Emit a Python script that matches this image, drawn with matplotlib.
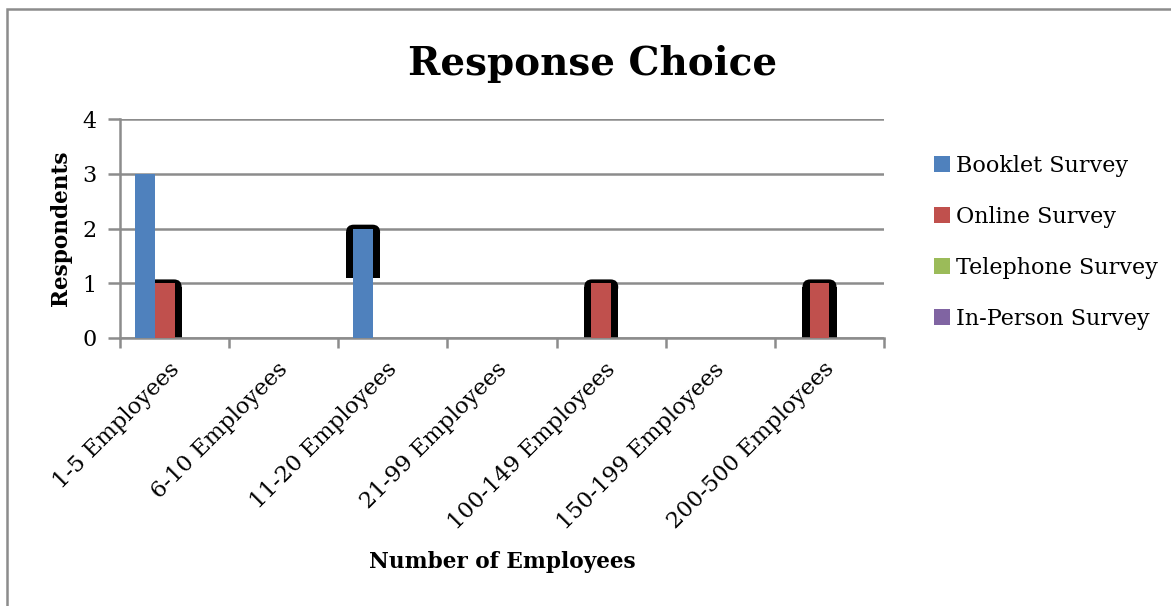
import matplotlib
matplotlib.use("Agg")
import matplotlib.pyplot as plt
import numpy as np
from matplotlib.patches import Rectangle, FancyBboxPatch

categories = ["1-5 Employees", "6-10 Employees", "11-20 Employees", "21-99 Employees",
              "100-149 Employees", "150-199 Employees", "200-500 Employees"]
series_names = ["Booklet Survey", "Online Survey", "Telephone Survey", "In-Person Survey"]
booklet = [3, 0, 2, 0, 0, 0, 0]
online = [1, 0, 0, 0, 1, 0, 1]
telephone = [0, 0, 0, 0, 0, 0, 0]
in_person = [0, 0, 0, 0, 0, 0, 0]
colors = ["#4F81BD", "#C0504D", "#9BBB59", "#8064A2"]
y_ticks = [0, 1, 2, 3, 4]
# rendering artefacts of the original: (series index, category index, lower value of black cap)
black_caps = [(1, 0, 0.0), (0, 2, 1.1), (1, 4, 0.0), (1, 6, 0.0)]

plt.rcParams["font.family"] = ["DejaVu Serif"]

fig = plt.figure(figsize=(11.71, 6.06), dpi=100)
ax = fig.add_axes([120/1171, 1-338/606, (884-120)/1171, (338-119)/606])

data = [booklet, online, telephone, in_person]
n = len(series_names)
gap = 1.5
w = 1.0 / (n + gap)
x = np.arange(len(categories))
bars = []
for i, (vals, c, name) in enumerate(zip(data, colors, series_names)):
    pos = x - 0.5 + gap * w / 2 + w * (i + 0.5)
    b = ax.bar(pos, vals, width=w, color=c, label=name, zorder=3, linewidth=0)
    bars.append(b)

# black rounded caps (artefact in the reference)
padx = 0.065
rx = 0.07
ry = 0.14
for si, ci, low in black_caps:
    p = bars[si].patches[ci]
    x0 = p.get_x() - padx
    x1 = p.get_x() + p.get_width() + padx
    top = p.get_height() + 0.07
    base = low - 0.05 if low == 0 else low
    rect = Rectangle((x0, base), x1 - x0, (top - ry) - base,
                     facecolor="black", edgecolor="none", zorder=2)
    ax.add_patch(rect)
    fb = FancyBboxPatch((x0 + rx, top - ry), (x1 - x0) - 2 * rx, 0.0,
                        boxstyle=f"round,pad={rx},rounding_size={rx}", mutation_aspect=ry / rx,
                        facecolor="black", edgecolor="none", zorder=2)
    ax.add_patch(fb)

ax.set_xlim(-0.5, len(categories) - 0.5)
ax.set_ylim(0, 4)
ax.set_yticks(y_ticks)
ax.yaxis.grid(True, color="#8c8c8c", linewidth=1.8, zorder=0)
ax.set_axisbelow(True)
for s in ["top", "right"]:
    ax.spines[s].set_visible(False)
for s in ["left", "bottom"]:
    ax.spines[s].set_color("#8c8c8c")
    ax.spines[s].set_linewidth(1.8)

ax.set_xticks(np.arange(len(categories) + 1) - 0.5)
ax.set_xticklabels([])
ax.tick_params(axis="x", length=7, width=1.8, color="#8c8c8c", direction="out")
ax.tick_params(axis="y", length=9, width=1.8, color="#8c8c8c", direction="out", labelsize=16, pad=8)

for i, cat in enumerate(categories):
    ax.text(i - 0.06, -0.37, cat, rotation=45, ha="right", va="top", rotation_mode="anchor",
            fontsize=16.3, transform=ax.transData, clip_on=False)

ax.set_ylabel("Respondents", fontsize=15.6, fontweight="bold", labelpad=7)
fig.text(502/1171, 1-562/606, "Number of Employees", ha="center", va="center", fontsize=15.6, fontweight="bold")
fig.text(593/1171, 1-75/606, "Response Choice", ha="center", va="baseline", fontsize=28, fontweight="bold")

handles = [Rectangle((0, 0), 1, 1, facecolor=c, edgecolor="none") for c in colors]
fig.legend(handles, series_names, loc="upper left", bbox_to_anchor=(934/1171, 1-155/606), frameon=False,
           fontsize=16, handlelength=0.7, handleheight=0.7, handletextpad=0.3, labelspacing=1.3,
           borderpad=0, borderaxespad=0)

# outer frame
fig.add_artist(Rectangle((7/1171, -0.05), 1.1, 1 - 9/606 + 0.05, transform=fig.transFigure,
                         fill=False, edgecolor="#8c8c8c", linewidth=1.8, clip_on=False))

fig.savefig("out.png", dpi=100)
